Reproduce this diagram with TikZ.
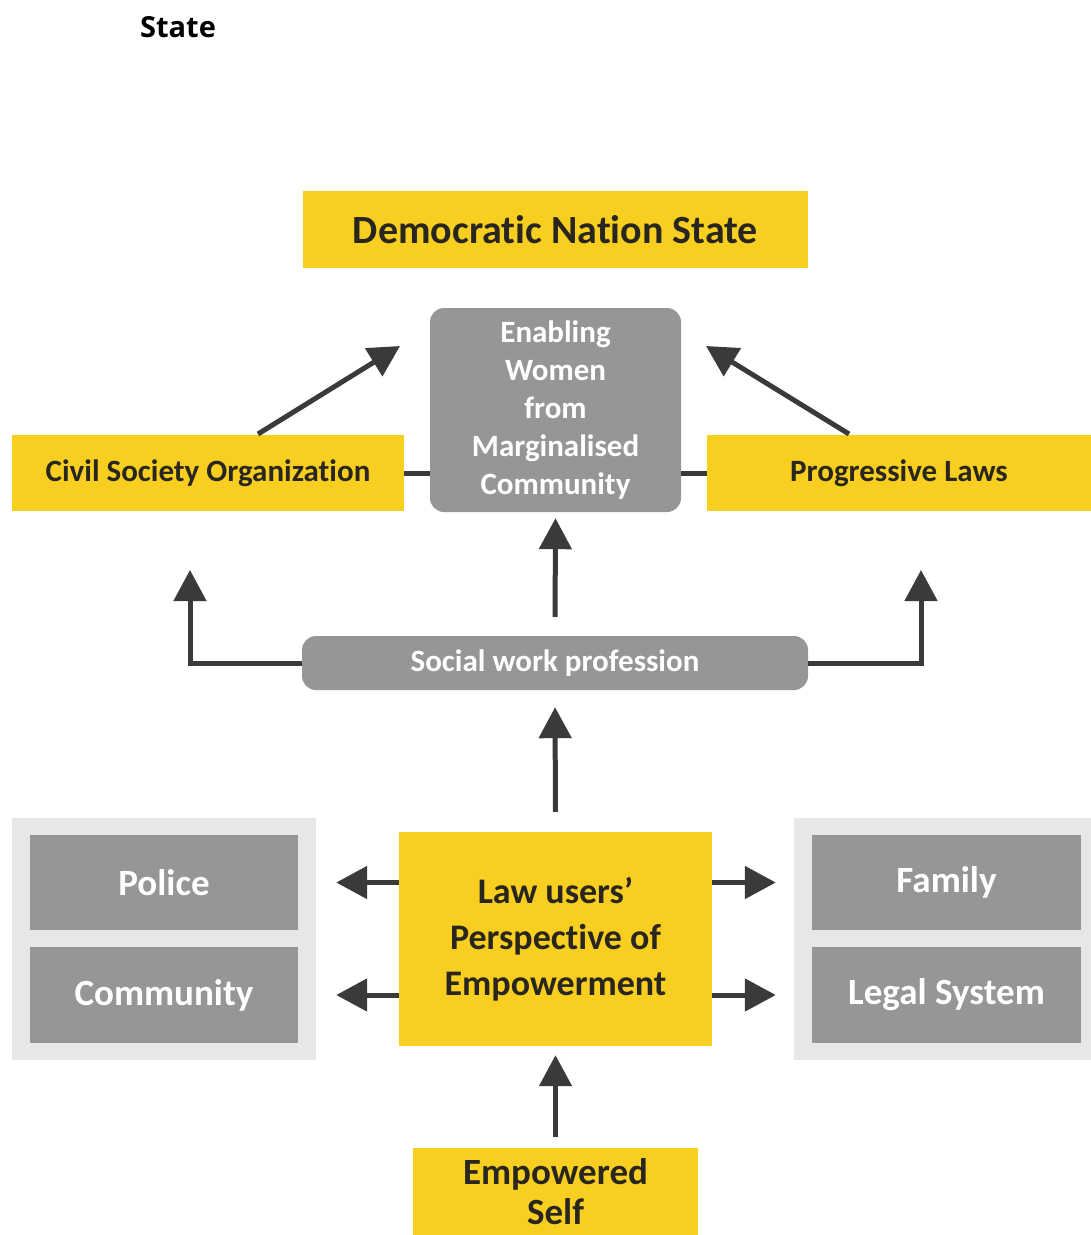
\documentclass[tikz,border=0pt]{standalone}
\usepackage{fontspec}
\setmainfont{Carlito}[Ligatures={NoCommon}]
\newfontfamily\statefont{Open Sans}
\usetikzlibrary{shapes.geometric, arrows.meta}
\definecolor{lawyellow}{RGB}{248,207,32}
\definecolor{boxgray}{RGB}{150,150,152}
\definecolor{panelgray}{RGB}{230,231,232}
\definecolor{arrowgray}{RGB}{58,58,58}
\definecolor{textdark}{RGB}{40,38,30}
\tikzstyle{yellowbox} = [rectangle, inner sep=0pt, text centered, align=center, fill=lawyellow, text=textdark]
\tikzstyle{graybox} = [rectangle, inner sep=0pt, text centered, align=center, fill=boxgray, text=white]
\tikzstyle{roundbox} = [graybox, rounded corners=14pt]
\tikzstyle{panel} = [rectangle, inner sep=0pt, fill=panelgray]
\tikzstyle{arrow} = [line width=5pt, draw=arrowgray, -{Triangle[length=31pt,width=32pt]}]
\tikzstyle{line} = [line width=5pt, draw=arrowgray]

\begin{document}
\begin{tikzpicture}[x=1pt, y=-1pt]
\useasboundingbox (0,0) rectangle (1091,1235);
\node (state) at (178,27) {\statefont\bfseries\fontsize{29}{34}\selectfont State};

\node (nation) [yellowbox, minimum width=505pt, minimum height=77pt, font=\bfseries\fontsize{40}{46}\selectfont] at (555.5,229.5) {Democratic Nation State};
\node (enabling) [roundbox, minimum width=251pt, minimum height=204pt, font=\bfseries\fontsize{31}{38}\selectfont] at (555.5,410) {Enabling\\ Women\\ from\\ Marginalised\\ Community};
\node (civil) [yellowbox, minimum width=392pt, minimum height=76pt, font=\bfseries\fontsize{31}{38}\selectfont] at (208,473) {Civil Society Organization};
\node (laws) [yellowbox, minimum width=384pt, minimum height=76pt, font=\bfseries\fontsize{31}{38}\selectfont] at (899,473) {Progressive Laws};
\node (social) [roundbox, minimum width=506pt, minimum height=54pt, font=\bfseries\fontsize{31}{38}\selectfont] at (555,663) {Social work profession};

\node (leftpanel) [panel, minimum width=304pt, minimum height=242pt] at (164,939) {};
\node (rightpanel) [panel, minimum width=297pt, minimum height=242pt] at (942.5,939) {};
\node (police) [graybox, minimum width=268pt, minimum height=95pt, font=\bfseries\fontsize{37}{44}\selectfont] at (164,882.5) {Police};
\node (community) [graybox, minimum width=268pt, minimum height=96pt, font=\bfseries\fontsize{37}{44}\selectfont] at (164,995) {Community};
\node (family) [graybox, minimum width=269pt, minimum height=95pt, font=\bfseries\fontsize{37}{44}\selectfont] at (946.5,882.5) {Family};
\node (legal) [graybox, minimum width=269pt, minimum height=96pt, font=\bfseries\fontsize{37}{44}\selectfont] at (946.5,995) {Legal System};
\node (lawusers) [yellowbox, minimum width=313pt, minimum height=214pt, font=\bfseries\fontsize{36}{46}\selectfont] at (555.5,939) {Law users'\\ Perspective of\\ Empowerment};
\node (self) [yellowbox, minimum width=285pt, minimum height=87pt, font=\bfseries\fontsize{37}{40}\selectfont] at (555.5,1191.5) {Empowered\\ Self};

\coordinate (civtail) at (258,434);
\coordinate (civtip) at (400,346);
\coordinate (lawtail) at (849,434);
\coordinate (lawtip) at (706,346);
\coordinate (civup) at (190,570);
\coordinate (lawup) at (921,570);

\draw [arrow] (civtail) -- (civtip);
\draw [arrow] (lawtail) -- (lawtip);
\draw [line] (civil.east) -- (civil.east -| enabling.west);
\draw [line] (laws.west) -- (laws.west -| enabling.east);
\draw [arrow, shorten <=19pt, shorten >=6pt] (social.north) -- (enabling.south);
\draw [arrow] (social.west) -| (civup);
\draw [arrow] (social.east) -| (lawup);
\draw [arrow, shorten <=20pt, shorten >=17pt] (lawusers.north) -- (social.south);
\draw [arrow, shorten >=38pt] (lawusers.west |- police.east) -- (police.east);
\draw [arrow, shorten >=38pt] (lawusers.west |- community.east) -- (community.east);
\draw [arrow, shorten >=36pt] (lawusers.east |- family.west) -- (family.west);
\draw [arrow, shorten >=36pt] (lawusers.east |- legal.west) -- (legal.west);
\draw [arrow, shorten <=11pt, shorten >=9pt] (self.north) -- (lawusers.south);
\end{tikzpicture}
\end{document}
